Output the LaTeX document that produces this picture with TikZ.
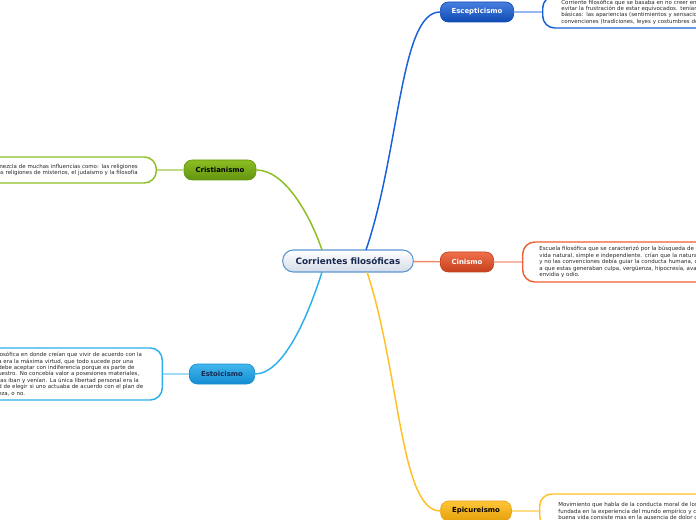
\documentclass[tikz,border=0pt]{standalone}
\usepackage{fontspec}
\setmainfont{DejaVu Sans}
\usetikzlibrary{positioning}
\definecolor{rootedge}{RGB}{90,150,210}
\definecolor{rootfill}{RGB}{212,220,232}
\definecolor{rootink}{RGB}{25,40,80}
\definecolor{escepblue}{RGB}{25,95,215}
\definecolor{escepdark}{RGB}{15,75,180}
\definecolor{cinred}{RGB}{238,95,55}
\definecolor{cindark}{RGB}{198,65,30}
\definecolor{epicyellow}{RGB}{255,192,35}
\definecolor{epicdark}{RGB}{228,160,10}
\definecolor{cristgreen}{RGB}{140,190,35}
\definecolor{cristdark}{RGB}{100,148,15}
\definecolor{estoicblue}{RGB}{45,175,235}
\definecolor{estoicdark}{RGB}{20,140,210}

\begin{document}
\begin{tikzpicture}[x=0.75pt,y=-0.75pt,
    topic/.style={draw,rounded corners=6pt,minimum height=15pt,inner sep=1pt,
                  font=\fontsize{5.2}{6}\selectfont\bfseries,line width=0.5pt},
    note/.style={draw,rounded corners=9pt,fill=white,line width=1.1pt,align=left,
                 inner ysep=2pt,font=\fontsize{4.1}{4.8}\selectfont,text=black!85},
    branch/.style={line width=1.1pt}]

    \useasboundingbox (0,0) rectangle (696,520);
    \clip (0,0) rectangle (696,520);

    % main topic
    \node[draw=rootedge,top color=white,bottom color=rootfill,rounded corners=8pt,
          minimum width=98pt,minimum height=16.5pt,line width=0.8pt,text=rootink,
          font=\fontsize{6.6}{8}\selectfont\bfseries] (root) at (348,261)
      {Corrientes filosóficas};

    % subtopics
    \node[topic,draw=escepdark,top color=escepblue!80,bottom color=escepdark,
          text=white,minimum width=55pt] (escep) at (477,12) {Escepticismo};
    \node[topic,draw=cindark,top color=cinred!90,bottom color=cindark,
          text=white,minimum width=40pt] (cin) at (467,262) {Cinismo};
    \node[topic,draw=epicdark,top color=epicyellow!90,bottom color=epicdark,
          minimum width=53pt] (epic) at (476,511) {Epicureismo};
    \node[topic,draw=cristdark,top color=cristgreen,bottom color=cristdark,
          minimum width=54pt] (crist) at (220,170) {Cristianismo};
    \node[topic,draw=estoicdark,top color=estoicblue!90,bottom color=estoicdark,
          text=rootink,minimum width=49pt] (estoic) at (222,374) {Estoicismo};

    % notes
    \node[note,draw=escepblue,anchor=west,text width=220pt,minimum height=24pt,
          inner xsep=14pt] (escepnote) at (542,12)
      {Corriente filosófica que se basaba en no creer en\\
       evitar la frustración de estar equivocados. tenían\\
       básicas: las apariencias (sentimientos y sensacio\\
       convenciones (tradiciones, leyes y costumbres de};
    \node[note,draw=cinred,anchor=west,text width=220pt,minimum height=30pt,
          inner xsep=12.5pt] (cinnote) at (522,262)
      {Escuela filosófica que se caracterizó por la búsqueda de u\\
       vida natural, simple e independiente. crían que la natura\\
       y no las convenciones debía guiar la conducta humana, d\\
       a que estas generaban culpa, vergüenza, hipocresía, ava\\
       envidia y odio.};
    \node[note,draw=epicyellow,anchor=west,text width=220pt,minimum height=25.5pt,
          inner xsep=14pt] (epicnote) at (539,511)
      {Movimiento que habla de la conducta moral de los\\
       fundada en la experiencia del mundo empírico y c\\
       buena vida consiste mas en la ausencia de dolor o};
    \node[note,draw=cristgreen,anchor=east,text width=110pt,minimum height=19.5pt,
          inner xsep=9pt] (cristnote) at (157,170)
      {mezcla de muchas influencias como: las religiones\\
       as religiones de misterios, el judaísmo y la filosofía};
    \node[note,draw=estoicblue,anchor=east,text width=114pt,minimum height=39pt,
          inner xsep=9pt] (estoicnote) at (163,374)
      {losófica en donde creían que vivir de acuerdo con la\\
       a era la máxima virtud, que todo sucede por una\\
       debe aceptar con indiferencia porque es parte de\\
       uestro. No concebía valor a posesiones materiales,\\
       tas iban y venían. La única libertad personal era la\\
       d de elegir si uno actuaba de acuerdo con el plan de\\
       eza, o no.};

    % branches
    \coordinate (r1) at (366,250);
    \coordinate (r2) at (367,272);
    \coordinate (r3) at (322,250);
    \coordinate (r4) at (322,272);
    \draw[branch,escepblue] (r1) .. controls (400,150) and (400,12) .. (escep.west);
    \draw[branch,epicyellow] (r2) .. controls (400,372) and (400,511) .. (epic.west);
    \draw[branch,cristgreen] (r3) .. controls (310,215) and (285,170) .. (crist.east);
    \draw[branch,estoicblue] (r4) .. controls (310,310) and (285,374) .. (estoic.east);
    \draw[branch,cinred!75] (root) -- (cin);

    % note links
    \draw[line width=0.8pt,escepblue!45] (escep) -- (escepnote);
    \draw[line width=0.8pt,cinred!45] (cin) -- (cinnote);
    \draw[line width=0.8pt,epicyellow!55] (epic) -- (epicnote);
    \draw[line width=0.8pt,cristgreen!55] (crist) -- (cristnote);
    \draw[line width=0.8pt,estoicblue!45] (estoic) -- (estoicnote);
  \end{tikzpicture}
\end{document}
